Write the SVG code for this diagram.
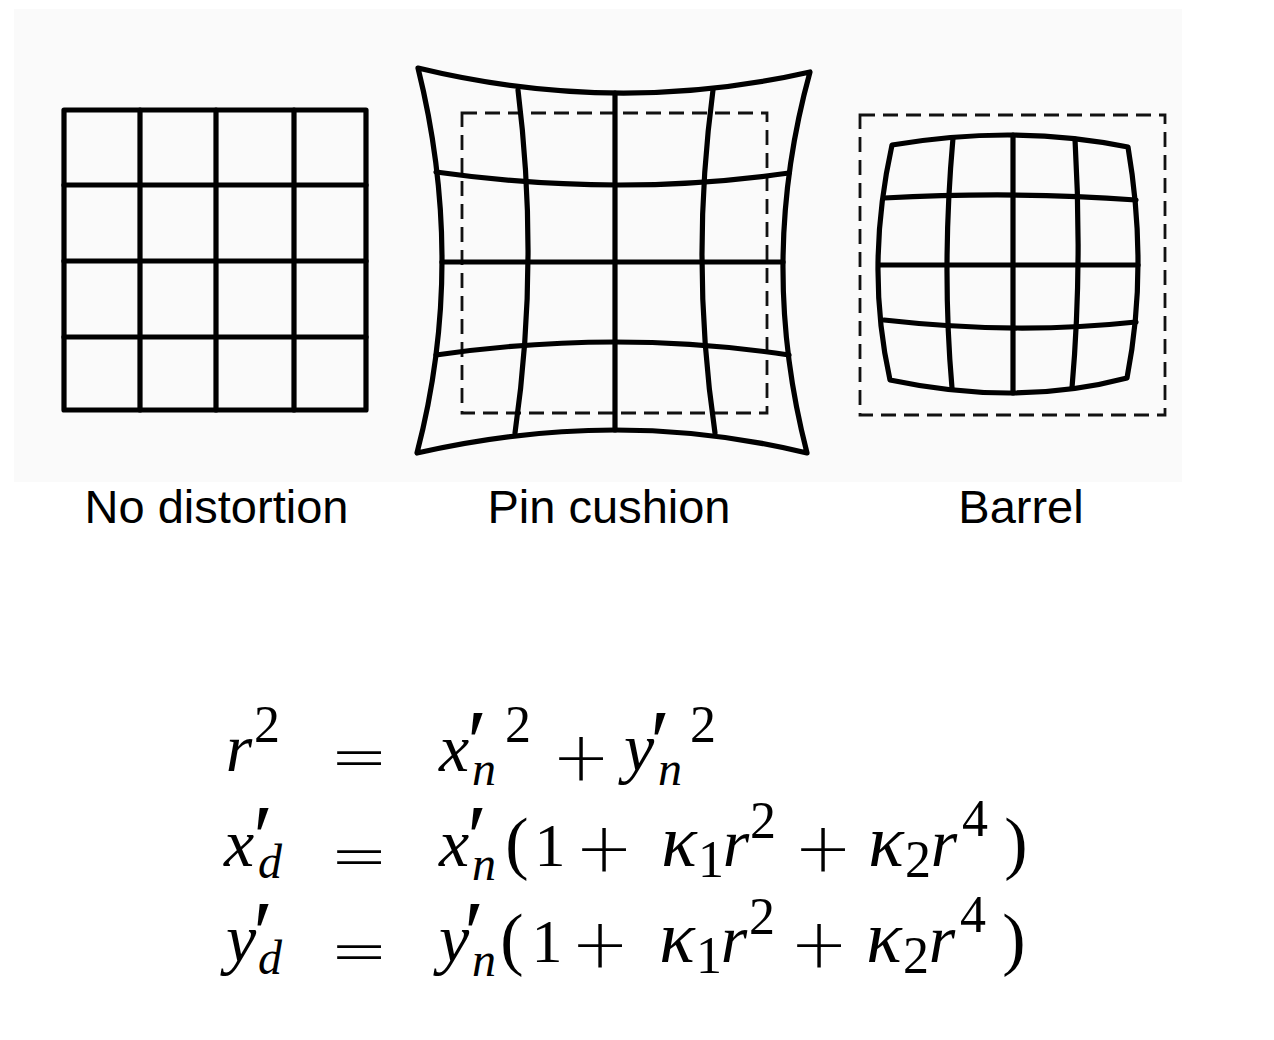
<svg xmlns="http://www.w3.org/2000/svg" width="1274" height="1040" viewBox="0 0 1274 1040">
<style>
.g{fill:none;stroke:#000;stroke-width:5.2;stroke-linecap:round;stroke-linejoin:round}
.d{fill:none;stroke:#111;stroke-width:2.8;stroke-dasharray:15 8}
.lbl{font-family:"Liberation Sans",Arial,sans-serif;font-size:47px;fill:#000;text-anchor:middle}
.eq{font-family:"Liberation Serif","Times New Roman",serif;fill:#000;text-anchor:middle}
.mi{font-style:italic;font-size:68px}
.k{font-style:italic;font-size:74px}
.si{font-style:italic;font-size:48px}
.sn{font-size:52px}
.dn{font-size:62px}
.op{font-family:"DejaVu Sans",sans-serif;font-size:70px;font-weight:200}
.pr{font-size:92px}
.pa{font-size:70px}
</style>
<rect x="14" y="9" width="1168" height="473" fill="#fafafa"/>

<g id="no-distortion">
<rect class="g" x="64" y="110" width="302" height="300"/>
<path class="g" d="M140,110V410M216,110V410M294,110V410M64,185H366M64,261H366M64,337H366"/>
</g>

<g id="pin-cushion">
<rect class="d" x="462" y="113" width="305" height="300"/>
<path class="g" d="M418,68Q616,116 810,72Q757.5,261.5 807,453Q618,407 417,453Q466.5,263.5 418,68Z"/>
<path class="g" d="M436,172Q617,197.5 789,173M442,262H783M436,355Q617,329 789,355"/>
<path class="g" d="M518,90Q539.5,262.5 515,433M615,93V430M713,90Q690,262.5 715,433"/>
</g>

<g id="barrel">
<rect class="d" x="860" y="115" width="305" height="300"/>
<path class="g" d="M892,145Q1016,124 1128,147Q1148.5,267.5 1127,378Q1017.5,407 890,380Q865,267.5 892,145Z"/>
<path class="g" d="M884,198Q1016,191 1136,200M879,265H1138M884,320Q1016,335 1136,322"/>
<path class="g" d="M953,138Q941.5,267 952,388M1013,135V393M1075,139Q1082.5,267 1072,388"/>
</g>

<g id="labels">
<text class="lbl" x="216.5" y="523">No distortion</text>
<text class="lbl" x="609" y="523">Pin cushion</text>
<text class="lbl" x="1021" y="523">Barrel</text>
</g>

<g id="equations">
<text class="eq"><tspan class="mi" x="239" y="771">r</tspan><tspan class="sn" x="267" y="742">2</tspan><tspan class="op" x="359" y="780">=</tspan><tspan class="mi" x="454" y="771">x</tspan><tspan class="pr" x="477" y="773">′</tspan><tspan class="si" x="484" y="785">n</tspan><tspan class="sn" x="518" y="742">2</tspan><tspan class="op" x="581" y="780">+</tspan><tspan class="mi" x="639" y="771">y</tspan><tspan class="pr" x="660" y="773">′</tspan><tspan class="si" x="670" y="785">n</tspan><tspan class="sn" x="703" y="742">2</tspan></text>
<text class="eq"><tspan class="mi" x="239" y="866">x</tspan><tspan class="pr" x="263" y="868">′</tspan><tspan class="si" x="270" y="878">d</tspan><tspan class="op" x="359" y="879">=</tspan><tspan class="mi" x="454" y="866">x</tspan><tspan class="pr" x="477" y="868">′</tspan><tspan class="si" x="484" y="880">n</tspan><tspan class="pa" x="517" y="866">(</tspan><tspan class="dn" x="550" y="866">1</tspan><tspan class="op" x="604" y="871">+</tspan><tspan class="k" x="679" y="866">κ</tspan><tspan class="sn" x="711" y="877">1</tspan><tspan class="mi" x="736" y="866">r</tspan><tspan class="sn" x="763" y="838">2</tspan><tspan class="op" x="823" y="871">+</tspan><tspan class="k" x="886" y="866">κ</tspan><tspan class="sn" x="918" y="877">2</tspan><tspan class="mi" x="944" y="866">r</tspan><tspan class="sn" x="975" y="836">4</tspan><tspan class="pa" x="1016" y="866">)</tspan></text>
<text class="eq"><tspan class="mi" x="241" y="962">y</tspan><tspan class="pr" x="263" y="964">′</tspan><tspan class="si" x="270" y="974">d</tspan><tspan class="op" x="359" y="974">=</tspan><tspan class="mi" x="454" y="962">y</tspan><tspan class="pr" x="474" y="964">′</tspan><tspan class="si" x="484" y="976">n</tspan><tspan class="pa" x="512" y="962">(</tspan><tspan class="dn" x="547" y="962">1</tspan><tspan class="op" x="600" y="967">+</tspan><tspan class="k" x="677" y="962">κ</tspan><tspan class="sn" x="709" y="973">1</tspan><tspan class="mi" x="734" y="962">r</tspan><tspan class="sn" x="762" y="934">2</tspan><tspan class="op" x="819" y="967">+</tspan><tspan class="k" x="884" y="962">κ</tspan><tspan class="sn" x="916" y="973">2</tspan><tspan class="mi" x="942" y="962">r</tspan><tspan class="sn" x="973" y="932">4</tspan><tspan class="pa" x="1014" y="962">)</tspan></text>
</g>
</svg>
